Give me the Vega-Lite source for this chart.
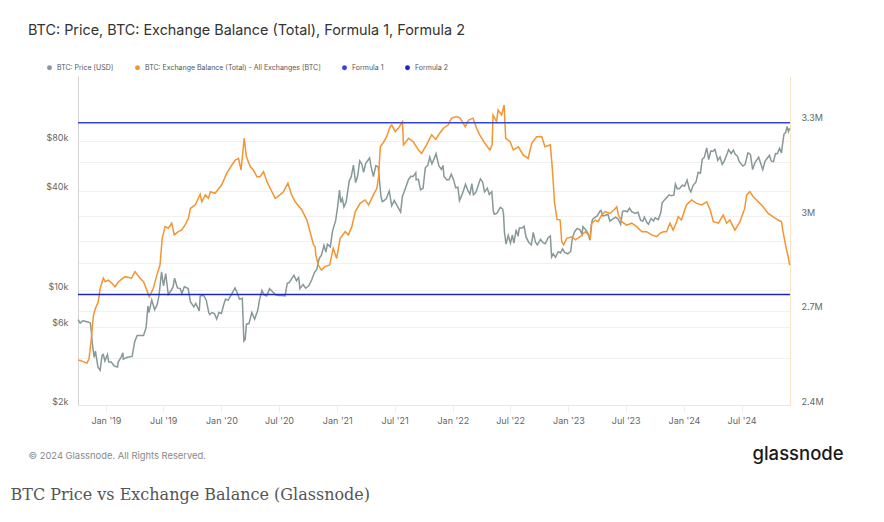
{
 "$schema": "https://vega.github.io/schema/vega-lite/v6.json",
 "width": 712,
 "height": 329,
 "autosize": {"type": "none"},
 "padding": {"left": 78, "top": 76, "right": 94, "bottom": 117},
 "background": "white",
 "config": {"view": {"stroke": null}, "font": "Inter"},
 "title": {"text": "BTC: Price, BTC: Exchange Balance (Total), Formula 1, Formula 2", "anchor": "start", "frame": "group", "dx": -50, "offset": 26, "fontSize": 14.4, "fontWeight": 400, "color": "#333333", "font": "Inter"},
 "datasets": {
  "price": [
   {"d":"2018-10-05","p":6600},{"d":"2018-10-12","p":6300},{"d":"2018-10-20","p":6500},{"d":"2018-10-28","p":6450},
   {"d":"2018-11-05","p":6400},{"d":"2018-11-13","p":6300},{"d":"2018-11-16","p":5600},{"d":"2018-11-20","p":4600},
   {"d":"2018-11-25","p":3900},{"d":"2018-11-29","p":4250},{"d":"2018-12-07","p":3400},{"d":"2018-12-14","p":3250},
   {"d":"2018-12-20","p":4000},{"d":"2018-12-24","p":4050},{"d":"2018-12-29","p":3700},{"d":"2019-01-06","p":4050},
   {"d":"2019-01-10","p":3650},{"d":"2019-01-18","p":3650},{"d":"2019-01-28","p":3450},{"d":"2019-02-07","p":3400},
   {"d":"2019-02-09","p":3650},{"d":"2019-02-18","p":3900},{"d":"2019-02-24","p":4150},{"d":"2019-02-25","p":3800},
   {"d":"2019-03-10","p":3900},{"d":"2019-03-25","p":3950},{"d":"2019-04-02","p":4850},{"d":"2019-04-10","p":5300},
   {"d":"2019-04-20","p":5300},{"d":"2019-04-30","p":5300},{"d":"2019-05-08","p":5900},{"d":"2019-05-14","p":8000},
   {"d":"2019-05-17","p":7300},{"d":"2019-05-26","p":8700},{"d":"2019-06-04","p":7600},{"d":"2019-06-12","p":8150},
   {"d":"2019-06-18","p":9300},{"d":"2019-06-26","p":12900},{"d":"2019-07-02","p":10600},{"d":"2019-07-09","p":12600},
   {"d":"2019-07-17","p":9400},{"d":"2019-07-24","p":9800},{"d":"2019-08-01","p":10400},{"d":"2019-08-06","p":11800},
   {"d":"2019-08-15","p":10300},{"d":"2019-08-24","p":10200},{"d":"2019-08-29","p":9500},{"d":"2019-09-06","p":10500},
   {"d":"2019-09-18","p":10200},{"d":"2019-09-25","p":8500},{"d":"2019-10-06","p":7900},{"d":"2019-10-12","p":8300},
   {"d":"2019-10-23","p":7450},{"d":"2019-10-26","p":9200},{"d":"2019-11-05","p":9300},{"d":"2019-11-14","p":8700},
   {"d":"2019-11-22","p":7300},{"d":"2019-11-25","p":7100},{"d":"2019-12-02","p":7300},{"d":"2019-12-10","p":7200},
   {"d":"2019-12-17","p":6650},{"d":"2019-12-24","p":7300},{"d":"2020-01-01","p":7200},{"d":"2020-01-08","p":8100},
   {"d":"2020-01-14","p":8800},{"d":"2020-01-22","p":8650},{"d":"2020-02-01","p":9350},{"d":"2020-02-13","p":10300},
   {"d":"2020-02-20","p":9600},{"d":"2020-02-27","p":8800},{"d":"2020-03-07","p":8900},{"d":"2020-03-12","p":4900},
   {"d":"2020-03-16","p":5000},{"d":"2020-03-20","p":6200},{"d":"2020-03-28","p":6250},{"d":"2020-04-06","p":7300},
   {"d":"2020-04-15","p":6650},{"d":"2020-04-25","p":7550},{"d":"2020-04-30","p":8650},{"d":"2020-05-08","p":9950},
   {"d":"2020-05-15","p":9350},{"d":"2020-05-23","p":9200},{"d":"2020-06-01","p":10200},{"d":"2020-06-10","p":9800},
   {"d":"2020-06-20","p":9350},{"d":"2020-07-01","p":9250},{"d":"2020-07-10","p":9250},{"d":"2020-07-20","p":9200},
   {"d":"2020-07-27","p":11000},{"d":"2020-08-02","p":11100},{"d":"2020-08-17","p":12300},{"d":"2020-08-25","p":11400},
   {"d":"2020-09-01","p":11900},{"d":"2020-09-05","p":10200},{"d":"2020-09-15","p":10800},{"d":"2020-09-23","p":10250},
   {"d":"2020-10-03","p":10600},{"d":"2020-10-12","p":11500},{"d":"2020-10-21","p":12800},{"d":"2020-10-28","p":13300},
   {"d":"2020-11-05","p":15600},{"d":"2020-11-12","p":16300},{"d":"2020-11-20","p":18700},{"d":"2020-11-26","p":17000},
   {"d":"2020-12-01","p":19000},{"d":"2020-12-10","p":18300},{"d":"2020-12-17","p":22800},{"d":"2020-12-27","p":26500},
   {"d":"2021-01-02","p":32000},{"d":"2021-01-08","p":40500},{"d":"2021-01-12","p":34000},{"d":"2021-01-17","p":36000},
   {"d":"2021-01-22","p":32000},{"d":"2021-01-29","p":34300},{"d":"2021-02-08","p":46300},{"d":"2021-02-14","p":48700},
   {"d":"2021-02-21","p":57400},{"d":"2021-02-28","p":45000},{"d":"2021-03-06","p":49000},{"d":"2021-03-13","p":61000},
   {"d":"2021-03-20","p":58000},{"d":"2021-03-25","p":52000},{"d":"2021-04-01","p":59000},{"d":"2021-04-13","p":63500},
   {"d":"2021-04-18","p":56000},{"d":"2021-04-25","p":49000},{"d":"2021-05-03","p":57000},{"d":"2021-05-10","p":56000},
   {"d":"2021-05-13","p":49500},{"d":"2021-05-19","p":37000},{"d":"2021-05-23","p":34500},{"d":"2021-05-29","p":35000},
   {"d":"2021-06-05","p":36000},{"d":"2021-06-14","p":40000},{"d":"2021-06-22","p":32500},{"d":"2021-06-30","p":35000},
   {"d":"2021-07-08","p":32800},{"d":"2021-07-20","p":29800},{"d":"2021-07-26","p":37300},{"d":"2021-08-01","p":39800},
   {"d":"2021-08-14","p":47000},{"d":"2021-08-22","p":49300},{"d":"2021-08-28","p":48900},{"d":"2021-09-06","p":51700},
   {"d":"2021-09-07","p":46800},{"d":"2021-09-14","p":47100},{"d":"2021-09-21","p":40700},{"d":"2021-09-29","p":41500},
   {"d":"2021-10-06","p":55300},{"d":"2021-10-14","p":57300},{"d":"2021-10-20","p":64300},{"d":"2021-10-27","p":58400},
   {"d":"2021-11-03","p":62900},{"d":"2021-11-09","p":67500},{"d":"2021-11-18","p":56800},{"d":"2021-11-26","p":54000},
   {"d":"2021-12-01","p":57200},{"d":"2021-12-04","p":49200},{"d":"2021-12-13","p":46700},{"d":"2021-12-20","p":46900},
   {"d":"2021-12-27","p":50600},{"d":"2022-01-04","p":46400},{"d":"2022-01-10","p":41800},{"d":"2022-01-17","p":42200},
   {"d":"2022-01-22","p":35000},{"d":"2022-01-31","p":38400},{"d":"2022-02-10","p":44000},{"d":"2022-02-18","p":40000},
   {"d":"2022-02-24","p":38300},{"d":"2022-03-02","p":44300},{"d":"2022-03-07","p":38000},{"d":"2022-03-15","p":39300},
   {"d":"2022-03-29","p":47400},{"d":"2022-04-05","p":45400},{"d":"2022-04-11","p":39500},{"d":"2022-04-20","p":41500},
   {"d":"2022-04-26","p":38100},{"d":"2022-05-04","p":39700},{"d":"2022-05-09","p":30100},{"d":"2022-05-12","p":28900},
   {"d":"2022-05-20","p":29200},{"d":"2022-05-31","p":31800},{"d":"2022-06-07","p":31100},{"d":"2022-06-10","p":29100},
   {"d":"2022-06-13","p":22500},{"d":"2022-06-18","p":19000},{"d":"2022-06-25","p":21500},{"d":"2022-07-02","p":19300},
   {"d":"2022-07-08","p":21600},{"d":"2022-07-13","p":19300},{"d":"2022-07-20","p":23300},{"d":"2022-07-26","p":21200},
   {"d":"2022-07-30","p":23800},{"d":"2022-08-08","p":23800},{"d":"2022-08-14","p":24400},{"d":"2022-08-20","p":21100},
   {"d":"2022-08-28","p":19600},{"d":"2022-09-06","p":18800},{"d":"2022-09-12","p":22400},{"d":"2022-09-19","p":19500},
   {"d":"2022-09-25","p":18800},{"d":"2022-10-05","p":20300},{"d":"2022-10-13","p":19400},{"d":"2022-10-20","p":19100},
   {"d":"2022-10-29","p":20800},{"d":"2022-11-05","p":21300},{"d":"2022-11-09","p":15900},{"d":"2022-11-14","p":16600},
   {"d":"2022-11-21","p":15800},{"d":"2022-11-30","p":17100},{"d":"2022-12-07","p":16800},{"d":"2022-12-14","p":17800},
   {"d":"2022-12-20","p":16900},{"d":"2022-12-30","p":16600},{"d":"2023-01-08","p":17100},{"d":"2023-01-14","p":20900},
   {"d":"2023-01-21","p":22700},{"d":"2023-01-29","p":23700},{"d":"2023-02-07","p":23200},{"d":"2023-02-13","p":21800},
   {"d":"2023-02-16","p":24300},{"d":"2023-02-25","p":23200},{"d":"2023-03-03","p":22300},{"d":"2023-03-10","p":20100},
   {"d":"2023-03-14","p":24700},{"d":"2023-03-18","p":26900},{"d":"2023-03-24","p":27500},{"d":"2023-04-02","p":28200},
   {"d":"2023-04-11","p":30200},{"d":"2023-04-14","p":30500},{"d":"2023-04-20","p":28200},{"d":"2023-04-26","p":28400},
   {"d":"2023-05-06","p":28900},{"d":"2023-05-12","p":26200},{"d":"2023-05-23","p":27200},{"d":"2023-05-30","p":27700},
   {"d":"2023-06-06","p":27200},{"d":"2023-06-12","p":25900},{"d":"2023-06-15","p":25100},{"d":"2023-06-21","p":30000},
   {"d":"2023-06-26","p":30300},{"d":"2023-07-06","p":29900},{"d":"2023-07-13","p":31400},{"d":"2023-07-20","p":29900},
   {"d":"2023-07-31","p":29200},{"d":"2023-08-09","p":29700},{"d":"2023-08-17","p":26600},{"d":"2023-08-24","p":26200},
   {"d":"2023-08-29","p":27700},{"d":"2023-09-06","p":25700},{"d":"2023-09-11","p":25100},{"d":"2023-09-19","p":27200},
   {"d":"2023-09-27","p":26300},{"d":"2023-10-02","p":27500},{"d":"2023-10-12","p":26800},{"d":"2023-10-20","p":29700},
   {"d":"2023-10-24","p":33900},{"d":"2023-11-01","p":35400},{"d":"2023-11-09","p":36700},{"d":"2023-11-15","p":37900},
   {"d":"2023-11-22","p":37400},{"d":"2023-11-30","p":37700},{"d":"2023-12-05","p":44000},{"d":"2023-12-11","p":41200},
   {"d":"2023-12-18","p":41400},{"d":"2023-12-27","p":43400},{"d":"2024-01-03","p":42800},{"d":"2024-01-11","p":46600},
   {"d":"2024-01-18","p":41200},{"d":"2024-01-23","p":39500},{"d":"2024-01-30","p":43300},{"d":"2024-02-08","p":45300},
   {"d":"2024-02-15","p":51900},{"d":"2024-02-22","p":51300},{"d":"2024-02-28","p":62500},{"d":"2024-03-05","p":63800},
   {"d":"2024-03-13","p":73100},{"d":"2024-03-19","p":62000},{"d":"2024-03-26","p":70000},{"d":"2024-04-01","p":69600},
   {"d":"2024-04-08","p":71600},{"d":"2024-04-17","p":61300},{"d":"2024-04-24","p":64300},{"d":"2024-05-01","p":58000},
   {"d":"2024-05-08","p":61200},{"d":"2024-05-15","p":66200},{"d":"2024-05-21","p":71400},{"d":"2024-05-29","p":67600},
   {"d":"2024-06-05","p":71000},{"d":"2024-06-11","p":66800},{"d":"2024-06-18","p":65000},{"d":"2024-06-24","p":60300},
   {"d":"2024-07-05","p":56700},{"d":"2024-07-12","p":57900},{"d":"2024-07-21","p":68200},{"d":"2024-07-29","p":66800},
   {"d":"2024-08-05","p":54000},{"d":"2024-08-12","p":59300},{"d":"2024-08-24","p":64200},{"d":"2024-08-30","p":59100},
   {"d":"2024-09-06","p":53900},{"d":"2024-09-13","p":60500},{"d":"2024-09-20","p":63200},{"d":"2024-09-27","p":65800},
   {"d":"2024-10-03","p":60700},{"d":"2024-10-10","p":60300},{"d":"2024-10-16","p":67600},{"d":"2024-10-22","p":67400},
   {"d":"2024-10-29","p":72700},{"d":"2024-11-04","p":68000},{"d":"2024-11-07","p":75800},{"d":"2024-11-12","p":88700},
   {"d":"2024-11-17","p":90600},{"d":"2024-11-22","p":98900},{"d":"2024-11-26","p":91900},{"d":"2024-11-30","p":96400}
  ],
  "bal": [
   {"d":"2018-10-06","b":2543000},{"d":"2018-10-22","b":2538000},{"d":"2018-11-02","b":2533000},{"d":"2018-11-09","b":2548000},
   {"d":"2018-11-15","b":2601000},{"d":"2018-11-23","b":2686000},{"d":"2018-11-29","b":2707000},{"d":"2018-12-08","b":2728000},
   {"d":"2018-12-14","b":2771000},{"d":"2018-12-24","b":2803000},{"d":"2018-12-30","b":2792000},{"d":"2019-01-09","b":2797000},
   {"d":"2019-01-20","b":2787000},{"d":"2019-01-30","b":2776000},{"d":"2019-02-10","b":2792000},{"d":"2019-02-20","b":2800000},
   {"d":"2019-03-03","b":2808000},{"d":"2019-03-23","b":2803000},{"d":"2019-04-03","b":2824000},{"d":"2019-04-19","b":2803000},
   {"d":"2019-04-30","b":2792000},{"d":"2019-05-10","b":2766000},{"d":"2019-05-18","b":2744000},{"d":"2019-05-31","b":2771000},
   {"d":"2019-06-11","b":2813000},{"d":"2019-06-21","b":2845000},{"d":"2019-06-28","b":2930000},{"d":"2019-07-07","b":2967000},
   {"d":"2019-07-17","b":2962000},{"d":"2019-07-28","b":2978000},{"d":"2019-08-05","b":2941000},{"d":"2019-08-18","b":2951000},
   {"d":"2019-08-28","b":2956000},{"d":"2019-09-08","b":2972000},{"d":"2019-09-19","b":2994000},{"d":"2019-09-25","b":3025000},
   {"d":"2019-10-10","b":3036000},{"d":"2019-10-26","b":3070000},{"d":"2019-10-31","b":3046000},{"d":"2019-11-11","b":3068000},
   {"d":"2019-11-21","b":3057000},{"d":"2019-11-27","b":3078000},{"d":"2019-12-12","b":3073000},{"d":"2020-01-02","b":3100000},
   {"d":"2020-01-18","b":3137000},{"d":"2020-02-03","b":3163000},{"d":"2020-02-14","b":3179000},{"d":"2020-02-24","b":3184000},
   {"d":"2020-03-03","b":3147000},{"d":"2020-03-13","b":3248000},{"d":"2020-03-20","b":3189000},{"d":"2020-04-01","b":3158000},
   {"d":"2020-04-11","b":3147000},{"d":"2020-04-22","b":3126000},{"d":"2020-05-02","b":3126000},{"d":"2020-05-13","b":3142000},
   {"d":"2020-05-24","b":3110000},{"d":"2020-06-03","b":3089000},{"d":"2020-06-19","b":3057000},{"d":"2020-07-04","b":3068000},
   {"d":"2020-07-15","b":3078000},{"d":"2020-07-29","b":3105000},{"d":"2020-08-10","b":3068000},{"d":"2020-08-21","b":3046000},
   {"d":"2020-09-11","b":3020000},{"d":"2020-09-27","b":2988000},{"d":"2020-10-07","b":2951000},{"d":"2020-10-18","b":2909000},
   {"d":"2020-10-23","b":2903000},{"d":"2020-10-25","b":2877000},{"d":"2020-11-02","b":2845000},{"d":"2020-11-12","b":2829000},
   {"d":"2020-11-23","b":2840000},{"d":"2020-12-08","b":2845000},{"d":"2020-12-19","b":2898000},{"d":"2020-12-30","b":2866000},
   {"d":"2021-01-10","b":2930000},{"d":"2021-01-26","b":2951000},{"d":"2021-02-05","b":2941000},{"d":"2021-02-16","b":2967000},
   {"d":"2021-02-27","b":3015000},{"d":"2021-03-14","b":3041000},{"d":"2021-03-30","b":3052000},{"d":"2021-04-10","b":3036000},
   {"d":"2021-04-25","b":3068000},{"d":"2021-05-06","b":3089000},{"d":"2021-05-11","b":3121000},{"d":"2021-05-17","b":3221000},
   {"d":"2021-05-28","b":3237000},{"d":"2021-06-06","b":3253000},{"d":"2021-06-17","b":3285000},{"d":"2021-06-22","b":3290000},
   {"d":"2021-07-03","b":3269000},{"d":"2021-07-13","b":3280000},{"d":"2021-07-26","b":3301000},{"d":"2021-07-29","b":3227000},
   {"d":"2021-08-14","b":3248000},{"d":"2021-08-29","b":3237000},{"d":"2021-09-14","b":3211000},{"d":"2021-09-24","b":3200000},
   {"d":"2021-10-10","b":3227000},{"d":"2021-10-26","b":3259000},{"d":"2021-11-08","b":3245000},{"d":"2021-11-21","b":3265000},
   {"d":"2021-12-02","b":3280000},{"d":"2021-12-17","b":3290000},{"d":"2021-12-28","b":3312000},{"d":"2022-01-13","b":3317000},
   {"d":"2022-01-24","b":3312000},{"d":"2022-02-09","b":3285000},{"d":"2022-02-20","b":3306000},{"d":"2022-03-06","b":3312000},
   {"d":"2022-03-17","b":3280000},{"d":"2022-03-27","b":3259000},{"d":"2022-04-12","b":3232000},{"d":"2022-04-28","b":3211000},
   {"d":"2022-05-05","b":3227000},{"d":"2022-05-08","b":3322000},{"d":"2022-05-19","b":3301000},{"d":"2022-05-24","b":3338000},
   {"d":"2022-06-04","b":3322000},{"d":"2022-06-12","b":3354000},{"d":"2022-06-17","b":3248000},{"d":"2022-07-01","b":3237000},
   {"d":"2022-07-11","b":3211000},{"d":"2022-07-27","b":3221000},{"d":"2022-08-11","b":3195000},{"d":"2022-08-27","b":3184000},
   {"d":"2022-09-07","b":3232000},{"d":"2022-09-23","b":3253000},{"d":"2022-10-09","b":3253000},{"d":"2022-10-19","b":3221000},
   {"d":"2022-11-05","b":3227000},{"d":"2022-11-12","b":3142000},{"d":"2022-11-18","b":3046000},{"d":"2022-11-26","b":2990000},
   {"d":"2022-12-06","b":2988000},{"d":"2022-12-11","b":2919000},{"d":"2022-12-17","b":2909000},{"d":"2022-12-27","b":2930000},
   {"d":"2023-01-12","b":2935000},{"d":"2023-01-23","b":2925000},{"d":"2023-02-07","b":2935000},{"d":"2023-02-23","b":2951000},
   {"d":"2023-03-05","b":2941000},{"d":"2023-03-11","b":2930000},{"d":"2023-03-16","b":2978000},{"d":"2023-03-27","b":2988000},
   {"d":"2023-04-05","b":2983000},{"d":"2023-04-16","b":3004000},{"d":"2023-04-27","b":3015000},{"d":"2023-05-13","b":3009000},
   {"d":"2023-05-29","b":3025000},{"d":"2023-06-03","b":3030000},{"d":"2023-06-08","b":3004000},{"d":"2023-06-19","b":2983000},
   {"d":"2023-07-04","b":2972000},{"d":"2023-07-20","b":2978000},{"d":"2023-08-05","b":2967000},{"d":"2023-08-21","b":2951000},
   {"d":"2023-09-05","b":2951000},{"d":"2023-09-21","b":2941000},{"d":"2023-10-07","b":2935000},{"d":"2023-10-17","b":2946000},
   {"d":"2023-10-28","b":2951000},{"d":"2023-11-07","b":2951000},{"d":"2023-11-18","b":2978000},{"d":"2023-11-28","b":2956000},
   {"d":"2023-12-08","b":2980000},{"d":"2023-12-14","b":2999000},{"d":"2023-12-24","b":2988000},{"d":"2024-01-09","b":3036000},
   {"d":"2024-01-25","b":3052000},{"d":"2024-02-10","b":3041000},{"d":"2024-02-26","b":3036000},{"d":"2024-03-13","b":3046000},
   {"d":"2024-03-24","b":3020000},{"d":"2024-04-03","b":2983000},{"d":"2024-04-19","b":2978000},{"d":"2024-05-04","b":3004000},
   {"d":"2024-05-15","b":2978000},{"d":"2024-05-25","b":2988000},{"d":"2024-06-10","b":2956000},{"d":"2024-06-26","b":2983000},
   {"d":"2024-07-11","b":3025000},{"d":"2024-07-17","b":3068000},{"d":"2024-07-27","b":3078000},{"d":"2024-08-07","b":3062000},
   {"d":"2024-08-23","b":3046000},{"d":"2024-09-07","b":3030000},{"d":"2024-09-23","b":3009000},{"d":"2024-10-08","b":2999000},
   {"d":"2024-10-24","b":2988000},{"d":"2024-11-04","b":2983000},{"d":"2024-11-09","b":2951000},{"d":"2024-11-19","b":2898000},
   {"d":"2024-11-24","b":2877000},{"d":"2024-11-30","b":2845000}
  ],
  "formulas": [
   {"name":"Formula 1","v":3297000},
   {"name":"Formula 2","v":2751000}
  ]
 },
 "layer": [
  {
   "data": {"name": "price"},
   "mark": {"type": "line", "strokeWidth": 1.5},
   "encoding": {
    "x": {"field": "d", "type": "temporal", "title": "© 2024 Glassnode. All Rights Reserved.",
     "scale": {"type": "utc", "domain": ["2018-10-05", "2024-12-01"]},
     "axis": {"values": [{"year":2019,"month":1,"date":1,"utc":true},{"year":2019,"month":7,"date":1,"utc":true},{"year":2020,"month":1,"date":1,"utc":true},{"year":2020,"month":7,"date":1,"utc":true},{"year":2021,"month":1,"date":1,"utc":true},{"year":2021,"month":7,"date":1,"utc":true},{"year":2022,"month":1,"date":1,"utc":true},{"year":2022,"month":7,"date":1,"utc":true},{"year":2023,"month":1,"date":1,"utc":true},{"year":2023,"month":7,"date":1,"utc":true},{"year":2024,"month":1,"date":1,"utc":true},{"year":2024,"month":7,"date":1,"utc":true}],
      "labelExpr": "utcFormat(datum.value, \"%b '%y\")", "grid": false, "domainColor": "#e6e6e6", "tickColor": "#eeeeee", "tickSize": 7, "labelPadding": 4,
      "labelFont": "Inter", "labelFontSize": 9, "labelColor": "#666666",
      "titleX": -50, "titleY": 50, "titleAlign": "left", "titleBaseline": "middle", "titleFont": "Inter", "titleFontSize": 9.4, "titleFontWeight": 400, "titleColor": "#888888"}},
    "y": {"field": "p", "type": "quantitative", "title": "BTC Price vs Exchange Balance (Glassnode)",
     "scale": {"type": "log", "domain": [2000, 200000], "nice": false},
     "axis": {"values": [2000, 6000, 10000, 20000, 40000, 60000, 80000],
      "labelExpr": "datum.value == 20000 || datum.value == 60000 ? '' : '$' + format(datum.value / 1000, 'd') + 'k'",
      "grid": true, "gridColor": "#f0f0f0", "ticks": false, "tickSize": 0, "labelPadding": 10, "labelOffset": -4,
      "domainColor": "#d4d4d4", "labelFont": "Inter", "labelFontSize": 9, "labelColor": "#666666",
      "titleAngle": 0, "titleX": -68, "titleY": 418, "titleAlign": "left", "titleBaseline": "middle",
      "titleFont": "DejaVu Serif", "titleFontSize": 16, "titleFontWeight": 400, "titleColor": "#555555"}},
    "color": {"datum": "BTC: Price [USD]", "type": "nominal", "title": null,
     "scale": {"domain": ["BTC: Price [USD]", "BTC: Exchange Balance (Total) - All Exchanges [BTC]", "Formula 1", "Formula 2"], "range": ["#889898", "#f39530", "#3444dc", "#1c26c2"]},
     "legend": {"orient": "none", "legendX": -32, "legendY": -12, "direction": "horizontal", "columns": 4, "title": null,
      "symbolType": "circle", "symbolSize": 24, "symbolStrokeWidth": 0, "labelFont": "Inter", "labelFontSize": 7, "labelColor": "#555555",
      "labelLimit": 400, "columnPadding": 20, "labelOffset": 4,
      "encode": {"symbols": {"update": {"fill": {"scale": "color", "field": "value"}, "opacity": {"value": 1}}}}}}
   }
  },
  {
   "layer": [
    {
     "data": {"name": "bal"},
     "mark": {"type": "line", "strokeWidth": 1.5},
     "encoding": {
      "x": {"field": "d", "type": "temporal", "title": "© 2024 Glassnode. All Rights Reserved.",
       "scale": {"type": "utc", "domain": ["2018-10-05", "2024-12-01"]},
       "axis": {"values": [{"year":2019,"month":1,"date":1,"utc":true},{"year":2019,"month":7,"date":1,"utc":true},{"year":2020,"month":1,"date":1,"utc":true},{"year":2020,"month":7,"date":1,"utc":true},{"year":2021,"month":1,"date":1,"utc":true},{"year":2021,"month":7,"date":1,"utc":true},{"year":2022,"month":1,"date":1,"utc":true},{"year":2022,"month":7,"date":1,"utc":true},{"year":2023,"month":1,"date":1,"utc":true},{"year":2023,"month":7,"date":1,"utc":true},{"year":2024,"month":1,"date":1,"utc":true},{"year":2024,"month":7,"date":1,"utc":true}],
        "labelExpr": "utcFormat(datum.value, \"%b '%y\")", "grid": false, "domainColor": "#e6e6e6", "tickColor": "#eeeeee", "tickSize": 7, "labelPadding": 4,
        "labelFont": "Inter", "labelFontSize": 9, "labelColor": "#666666",
        "titleX": -50, "titleY": 50, "titleAlign": "left", "titleBaseline": "middle", "titleFont": "Inter", "titleFontSize": 9.4, "titleFontWeight": 400, "titleColor": "#888888"}},
      "y": {"field": "b", "type": "quantitative", "title": "glassnode",
       "scale": {"domain": [2400000, 3446000], "nice": false, "zero": false},
       "axis": {"orient": "right", "values": [2400000, 2550000, 2700000, 2850000, 3000000, 3300000],
        "labelExpr": "datum.value == 2550000 || datum.value == 2850000 ? '' : format(datum.value, '~s')",
        "grid": true, "gridColor": "#f0f0f0", "ticks": false, "tickSize": 0, "labelPadding": 11, "labelOffset": -4,
        "domainColor": "#fbe2c6", "labelFont": "Inter", "labelFontSize": 9, "labelColor": "#666666",
        "titleAngle": 0, "titleX": -38, "titleY": 377, "titleAlign": "left", "titleBaseline": "middle",
        "titleFont": "Inter", "titleFontSize": 18.5, "titleFontWeight": 500, "titleColor": "#1a1a1a"}},
      "color": {"datum": "BTC: Exchange Balance (Total) - All Exchanges [BTC]", "type": "nominal", "title": null}
     }
    },
    {
     "data": {"name": "formulas"},
     "mark": {"type": "rule", "strokeWidth": 1.5},
     "encoding": {
      "y": {"field": "v", "type": "quantitative", "title": "glassnode"},
      "color": {"field": "name", "type": "nominal", "title": null}
     }
    }
   ]
  }
 ],
 "resolve": {"scale": {"y": "independent"}}
}
